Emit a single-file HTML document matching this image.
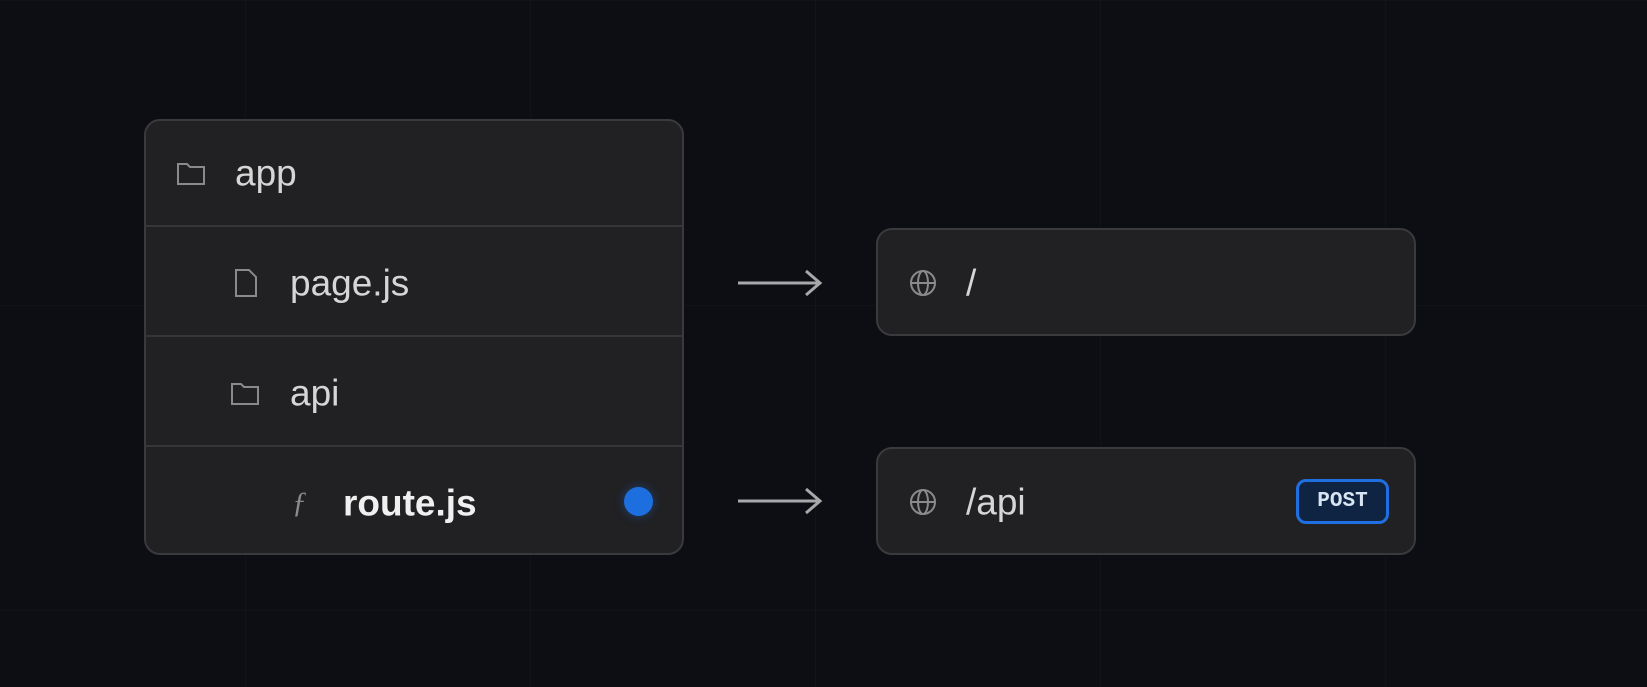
<!DOCTYPE html>
<html><head><meta charset="utf-8"><style>
html,body{margin:0;padding:0;}
body{width:1647px;height:687px;background:#0c0e13;position:relative;overflow:hidden;font-family:"Liberation Sans",sans-serif;}
.grid{position:absolute;inset:0;background-image:linear-gradient(rgba(255,255,255,0.02) 1px,transparent 1px),linear-gradient(90deg,rgba(255,255,255,0.02) 1px,transparent 1px);background-size:285px 305px;background-position:245px 0;}
.panel{position:absolute;background:#212123;border:2px solid #3a3a3d;border-radius:16px;box-sizing:border-box;}
.row{position:absolute;left:0;right:0;border-top:2px solid #363638;}
.t{position:absolute;color:#d6d6d6;font-size:37px;line-height:1;transform:translateY(-50%);}
.ic{position:absolute;transform:translateY(-50%);}
.arrow{position:absolute;}
</style></head><body>
<div class="grid"></div>

<div class="panel" style="left:144px;top:119px;width:540px;height:436px;">
  <div class="row" style="top:104px"></div>
  <div class="row" style="top:214px"></div>
  <div class="row" style="top:324px"></div>
</div>

<svg class="ic" style="left:176px;top:173px" width="30" height="26" viewBox="0 0 30 26"><path d="M2 4h9l3 3h14v17H2z" fill="none" stroke="#8a8a8c" stroke-width="2"/></svg>
<div class="t" style="left:235px;top:173px">app</div>

<svg class="ic" style="left:234px;top:283px" width="24" height="30" viewBox="0 0 24 30"><path d="M2 2h13l7 7v19H2z" fill="none" stroke="#8a8a8c" stroke-width="2"/></svg>
<div class="t" style="left:290px;top:283px">page.js</div>

<svg class="ic" style="left:230px;top:393px" width="30" height="26" viewBox="0 0 30 26"><path d="M2 4h9l3 3h14v17H2z" fill="none" stroke="#8a8a8c" stroke-width="2"/></svg>
<div class="t" style="left:290px;top:393px">api</div>

<div class="t" style="left:292px;top:503px;color:#8a8a8c;font-style:italic;font-family:'Liberation Serif',serif;font-size:30px">ƒ</div>
<div class="t" style="left:343px;top:503px;font-weight:bold;color:#f0f0f0">route.js</div>
<div style="position:absolute;left:624px;top:487px;width:29px;height:29px;border-radius:50%;background:#1d6fe0;box-shadow:0 0 10px rgba(30,110,230,0.4)"></div>

<svg class="arrow" style="left:736px;top:268px" width="90" height="30" viewBox="0 0 90 30"><path d="M2 15h82M70 3l14 12-14 12" fill="none" stroke="#a8a8aa" stroke-width="3"/></svg>
<svg class="arrow" style="left:736px;top:486px" width="90" height="30" viewBox="0 0 90 30"><path d="M2 15h82M70 3l14 12-14 12" fill="none" stroke="#a8a8aa" stroke-width="3"/></svg>

<div class="panel" style="left:876px;top:228px;width:540px;height:108px;"></div>
<svg class="ic" style="left:908px;top:283px" width="30" height="30" viewBox="0 0 30 30"><g fill="none" stroke="#8a8a8c" stroke-width="2"><circle cx="15" cy="15" r="12"/><ellipse cx="15" cy="15" rx="5" ry="12"/><path d="M3 15h24"/></g></svg>
<div class="t" style="left:966px;top:283px">/</div>

<div class="panel" style="left:876px;top:447px;width:540px;height:108px;"></div>
<svg class="ic" style="left:908px;top:502px" width="30" height="30" viewBox="0 0 30 30"><g fill="none" stroke="#8a8a8c" stroke-width="2"><circle cx="15" cy="15" r="12"/><ellipse cx="15" cy="15" rx="5" ry="12"/><path d="M3 15h24"/></g></svg>
<div class="t" style="left:966px;top:502px">/api</div>
<div style="position:absolute;left:1296px;top:479px;width:93px;height:45px;box-sizing:border-box;border:3px solid #1f6fe0;border-radius:10px;background:#0f2442;color:#d8e4f4;font-family:'Liberation Mono',monospace;font-size:21px;font-weight:bold;display:flex;align-items:center;justify-content:center">POST</div>
</body></html>
